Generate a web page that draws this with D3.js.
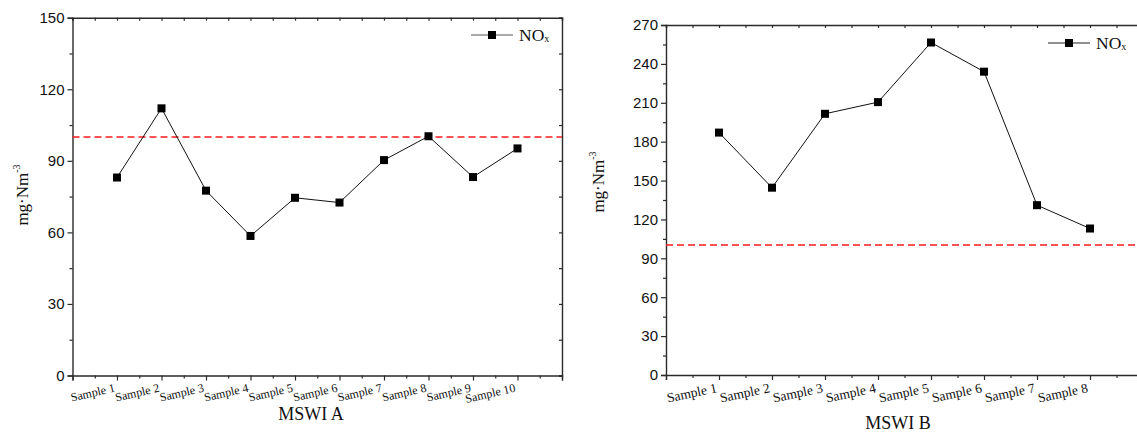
<!DOCTYPE html>
<html>
<head>
<meta charset="utf-8">
<script src="https://cdn.jsdelivr.net/npm/d3@7"></script>
<style>
  html, body { margin: 0; padding: 0; background: #fff; }
  svg { display: block; }
</style>
</head>
<body>
<script>
// NOx concentrations (mg·Nm-3) measured at two incineration plants
const samplesA = ["Sample 1","Sample 2","Sample 3","Sample 4","Sample 5","Sample 6","Sample 7","Sample 8","Sample 9","Sample 10"];
const noxA = [83, 112, 77.5, 58.5, 74.5, 72.5, 90.3, 100.3, 83.2, 95.2];
const samplesB = ["Sample 1","Sample 2","Sample 3","Sample 4","Sample 5","Sample 6","Sample 7","Sample 8"];
const noxB = [187, 144.5, 201.5, 210.5, 256.5, 234, 131, 113];
const limit = 100;                       // emission limit, dashed red line
const yTicksA = [0, 30, 60, 90, 120, 150];
const yTicksB = [0, 30, 60, 90, 120, 150, 180, 210, 240, 270];

const W = 1137, H = 433;
const svg = d3.select("body").append("svg").attr("width", W).attr("height", H);

const AXIS = "#2a2a2a";
const SERIF = "'Liberation Serif','Times New Roman',serif";
const SANS = "'Liberation Sans',Arial,sans-serif";

function panel(cfg) {
  const { names, values, yTicks, yMax, xMax, x0, x1, y0, y1, title, titleX, titleY,
          yTitleX, yTitleY, legX, legY, labelDy, labelSize, labelAngle, legColor } = cfg;
  const x = d3.scaleLinear().domain([0, xMax]).range([x0, x1]);
  const y = d3.scaleLinear().domain([0, yMax]).range([y1, y0]);
  const g = svg.append("g");
  const step = yTicks[1] - yTicks[0];
  const yMinor = d3.range(step / 2, yMax, step);
  const xMajor = d3.range(0, xMax + 0.001, 1);
  const xMinor = d3.range(0.5, xMax, 1);

  const style = sel => {
    sel.select(".domain").attr("stroke", AXIS).attr("stroke-width", 1.4);
    sel.selectAll(".tick line").attr("stroke", AXIS).attr("stroke-width", 1.2);
  };

  // left axis with labels
  g.append("g").attr("transform", `translate(${x0},0)`)
    .call(d3.axisLeft(y).tickValues(yTicks).tickSize(5).tickPadding(3).tickFormat(d3.format("d")))
    .call(style)
    .call(a => a.selectAll("text").attr("font-family", SANS).attr("font-size", 15).attr("fill", "#111"));
  g.append("g").attr("transform", `translate(${x0},0)`)
    .call(d3.axisLeft(y).tickValues(yMinor).tickSize(3).tickFormat(""))
    .call(style).call(a => a.select(".domain").remove());

  // right frame with inward ticks
  g.append("g").attr("transform", `translate(${x1},0)`)
    .call(d3.axisLeft(y).tickValues(yTicks.concat(yMinor)).tickSize(3).tickFormat(""))
    .call(style);

  // top frame with inward ticks
  g.append("g").attr("transform", `translate(0,${y0})`)
    .call(d3.axisBottom(x).tickValues(xMajor.concat(xMinor)).tickSize(3).tickFormat(""))
    .call(style);

  // bottom axis
  g.append("g").attr("transform", `translate(0,${y1})`)
    .call(d3.axisBottom(x).tickValues(xMajor).tickSize(5).tickFormat(""))
    .call(style);
  g.append("g").attr("transform", `translate(0,${y1})`)
    .call(d3.axisBottom(x).tickValues(xMinor).tickSize(3).tickFormat(""))
    .call(style).call(a => a.select(".domain").remove());

  // slanted category labels
  g.selectAll("text.cat").data(names).join("text")
    .attr("class", "cat")
    .attr("transform", (d, i) => `translate(${x(i + 1) - 1.5},${y1 + labelDy}) rotate(${-labelAngle})`)
    .attr("text-anchor", "end")
    .attr("font-family", SERIF).attr("font-size", labelSize).attr("fill", "#111")
    .text(d => d);

  // limit line
  const yl = Math.round(y(limit));
  g.append("line")
    .attr("x1", x0).attr("x2", x1).attr("y1", yl).attr("y2", yl)
    .attr("stroke", "#ff1a1a").attr("stroke-width", 1.6).attr("stroke-dasharray", "7,4");

  // series line and markers
  const pts = values.map((v, i) => [i + 1, v]);
  g.append("path").datum(pts)
    .attr("d", d3.line().x(d => x(d[0])).y(d => y(d[1])))
    .attr("fill", "none").attr("stroke", "#111").attr("stroke-width", 1);
  g.selectAll("rect.mk").data(pts).join("rect")
    .attr("class", "mk")
    .attr("x", d => x(d[0]) - 4).attr("y", d => y(d[1]) - 4)
    .attr("width", 8).attr("height", 8).attr("fill", "#000");

  // legend
  g.append("line").attr("x1", legX).attr("x2", legX + 42).attr("y1", legY).attr("y2", legY)
    .attr("stroke", legColor).attr("stroke-width", 1.2);
  g.append("rect").attr("x", legX + 17).attr("y", legY - 4).attr("width", 8).attr("height", 8).attr("fill", "#000");
  const lt = g.append("text").attr("x", legX + 48).attr("y", legY + 6)
    .attr("font-family", SERIF).attr("font-size", 17.5).attr("fill", "#111");
  lt.append("tspan").text("NO");
  lt.append("tspan").attr("font-size", 10).attr("dy", 1).text("x");

  // axis titles
  g.append("text").attr("x", titleX).attr("y", titleY).attr("text-anchor", "middle")
    .attr("font-family", SERIF).attr("font-size", 18).attr("fill", "#111").text(title);
  const yt = g.append("text")
    .attr("transform", `translate(${yTitleX},${yTitleY}) rotate(-90)`)
    .attr("text-anchor", "middle")
    .attr("font-family", SERIF).attr("font-size", 17).attr("fill", "#111");
  yt.append("tspan").text("mg·Nm");
  yt.append("tspan").attr("font-size", 10).attr("dy", -8).text("-3");
}

panel({
  names: samplesA, values: noxA, yTicks: yTicksA, yMax: 150, xMax: 11,
  x0: 72.5, x1: 562, y0: 17.7, y1: 375.5,
  title: "MSWI A", titleX: 311, titleY: 420,
  yTitleX: 28, yTitleY: 195, legX: 471, legY: 35,
  labelDy: 16, labelSize: 12, labelAngle: 13, legColor: "#555"
});

panel({
  names: samplesB, values: noxB, yTicks: yTicksB, yMax: 270, xMax: 9,
  x0: 666, x1: 1143, y0: 25, y1: 375,
  title: "MSWI B", titleX: 898, titleY: 429,
  yTitleX: 604, yTitleY: 182, legX: 1048, legY: 43,
  labelDy: 17, labelSize: 13.5, labelAngle: 12, legColor: "#222"
});
</script>
</body>
</html>
